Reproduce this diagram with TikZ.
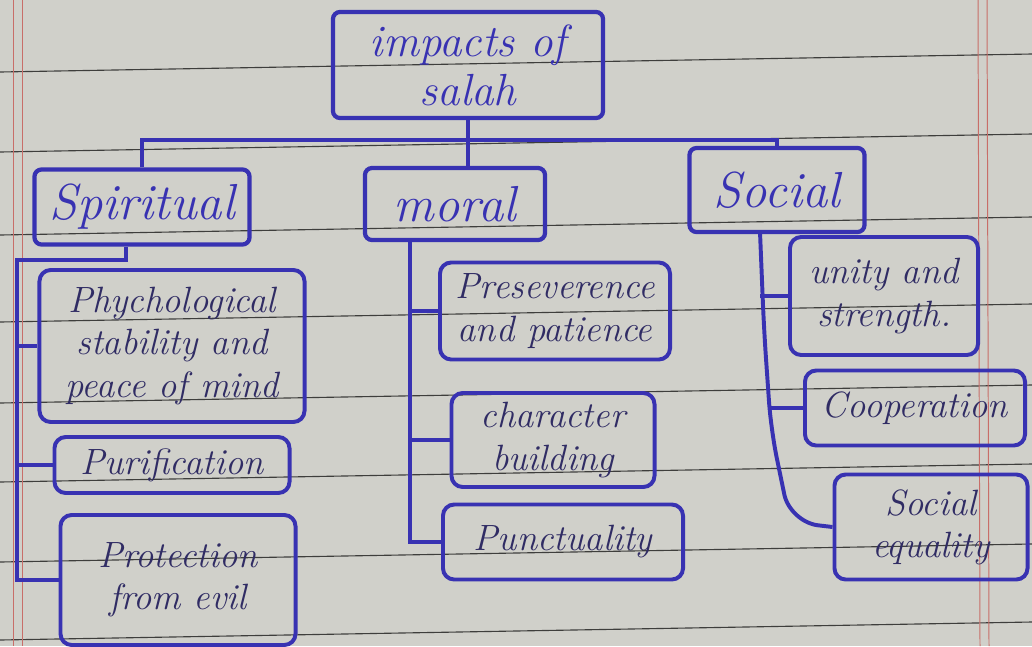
\documentclass[tikz,border=0pt]{standalone}
\usepackage{tikz}
\usetikzlibrary{positioning}
\definecolor{paper}{RGB}{208,208,202}
\definecolor{ink}{RGB}{56,50,178}
\definecolor{pencil}{RGB}{48,44,100}
\definecolor{redline}{RGB}{200,110,105}
\definecolor{greyline}{RGB}{62,62,60}
\tikzset{ruling/.style = {greyline, line width=0.8pt}}
\tikzset{marginline/.style = {redline, line width=0.7pt}}
\tikzset{headbox/.style = {draw=ink, line width=3pt, rounded corners=5pt, text=ink,
                           font=\fontsize{36}{38}\selectfont\itshape, align=center, inner sep=2pt}}
\tikzset{itembox/.style = {draw=ink, line width=2.8pt, rounded corners=8pt, text=pencil,
                           font=\fontsize{26}{30}\selectfont\itshape, align=center, inner sep=2pt}}
\tikzset{link/.style = {draw=ink, line width=2.8pt}}

\begin{document}
\begin{tikzpicture}[x=0.025cm, y=-0.025cm]
    \fill [paper] (0, 0) rectangle (1032, 646);
    \useasboundingbox (0, 0) rectangle (1032, 646);

    % ruled paper
    \foreach \ly in {-8, 72, 152, 235, 322, 403, 482, 562, 640}
        \draw [ruling] (0, \ly) -- (1032, \ly - 18);
    \draw [marginline] (13, 0) -- (13, 646);
    \draw [marginline] (22, 0) -- (22, 646);
    \draw [marginline] (978, 0) -- (980, 646);
    \draw [marginline] (987, 0) -- (989, 646);

    % headings
    \node [headbox, minimum width=6.75cm, minimum height=2.65cm,
           font=\fontsize{32}{35}\selectfont\itshape] (root) at (468, 65) {impacts of\\salah};
    \node [headbox, minimum width=5.375cm, minimum height=1.875cm] (spiritual) at (142, 207) {Spiritual};
    \node [headbox, minimum width=4.5cm, minimum height=1.8cm] (moral) at (455, 204) {moral};
    \node [headbox, minimum width=4.375cm, minimum height=2.1cm] (social) at (777, 190) {Social};

    % spiritual
    \node [itembox, minimum width=6.625cm, minimum height=3.8cm] (phych) at (172, 346)
          {Phychological\\stability and\\peace of mind};
    \node [itembox, minimum width=5.875cm, minimum height=1.4cm] (purif) at (172, 465) {Purification};
    \node [itembox, minimum width=5.875cm, minimum height=3.25cm] (protect) at (178, 580)
          {Protection\\from evil};

    % moral
    \node [itembox, minimum width=5.75cm, minimum height=2.425cm] (preserv) at (555, 311)
          {Preseverence\\and patience};
    \node [itembox, minimum width=5.075cm, minimum height=2.35cm] (charac) at (553, 440)
          {character\\building};
    \node [itembox, minimum width=6cm, minimum height=1.875cm] (punct) at (563, 542) {Punctuality};

    % social
    \node [itembox, minimum width=4.7cm, minimum height=2.95cm] (unity) at (884, 296)
          {unity and\\strength.};
    \node [itembox, minimum width=5.5cm, minimum height=1.875cm] (coop) at (915, 408) {Cooperation};
    \node [itembox, minimum width=4.825cm, minimum height=2.625cm] (equality) at (931, 527)
          {Social\\equality};

    % tree
    \coordinate (hub) at (468, 140);
    \draw [link] (root.south) -- (hub);
    \draw [link] (spiritual.north) |- (hub) -| (social.north);
    \draw [link] (hub) -- (hub |- moral.north);

    \coordinate (sptrunk) at (17, 260);
    \draw [link] ([xshift=-0.4cm]spiritual.south) |- (sptrunk) -- (sptrunk |- protect.west) -- (protect.west);
    \foreach \n in {phych, purif}
        \draw [link] (sptrunk |- \n.west) -- (\n.west);

    \coordinate (mtrunk) at (410, 240);
    \draw [link] (mtrunk) |- (punct.west);
    \foreach \n in {preserv, charac}
        \draw [link] (mtrunk |- \n.west) -- (\n.west);

    \coordinate (strunk) at (760, 232);
    \coordinate (sbend) at (771, 430);
    \draw [link, rounded corners=20pt] (strunk) -- (764, 330) -- (sbend) -- (790, 522) -- (equality.west);
    \draw [link] (strunk |- unity.west) -- (unity.west);
    \draw [link] (sbend |- coop.west) -- (coop.west);
\end{tikzpicture}
\end{document}
